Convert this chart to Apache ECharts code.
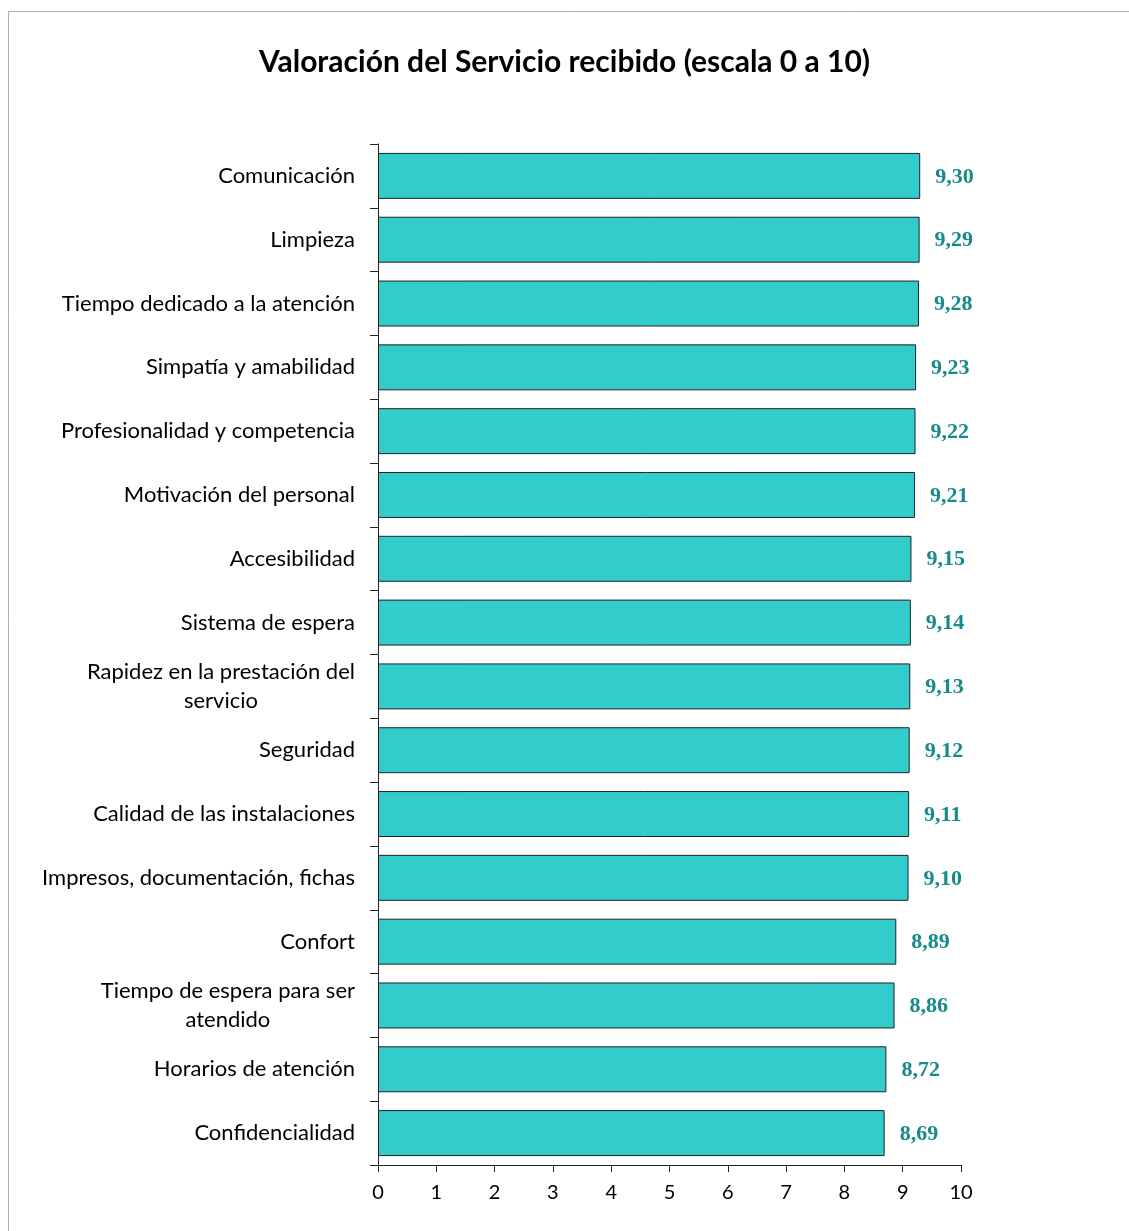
<!DOCTYPE html>
<html>
<head>
<meta charset="utf-8">
<script src="https://cdn.jsdelivr.net/npm/echarts@6/dist/echarts.min.js"></script>
<style>
  html, body { margin: 0; padding: 0; background: #fff; }
  #chart { width: 1129px; height: 1231px; }
</style>
</head>
<body>
<div id="chart"></div>
<script>
// categorias (de arriba a abajo) y valoraciones
const categorias = [
  "Comunicación",
  "Limpieza",
  "Tiempo dedicado a la atención",
  "Simpatía y amabilidad",
  "Profesionalidad y competencia",
  "Motivación del personal",
  "Accesibilidad",
  "Sistema de espera",
  "Rapidez en la prestación del\nservicio",
  "Seguridad",
  "Calidad de las instalaciones",
  "Impresos, documentación, fichas",
  "Confort",
  "Tiempo de espera para ser\natendido",
  "Horarios de atención",
  "Confidencialidad"
];
const valoraciones = [9.30, 9.29, 9.28, 9.23, 9.22, 9.21, 9.15, 9.14, 9.13, 9.12, 9.11, 9.10, 8.89, 8.86, 8.72, 8.69];
const ticksX = [0, 1, 2, 3, 4, 5, 6, 7, 8, 9, 10];

const myChart = echarts.init(document.getElementById("chart"));

const option = {
  backgroundColor: "#fff",
  animation: false,
  title: {
    text: "Valoración del Servicio recibido (escala 0 a 10)",
    left: "center",
    top: 42,
    textStyle: {
      fontFamily: "Lato",
      fontWeight: "bold",
      fontSize: 30,
      color: "#000"
    }
  },
  graphic: [
    {
      // marco gris del grafico
      type: "rect",
      left: 6,
      top: 9,
      shape: { width: 1140, height: 1240 },
      style: { fill: "none", stroke: "#b0b0b0", lineWidth: 1 },
      silent: true
    }
  ],
  grid: {
    left: 378,
    right: 168,
    top: 144,
    bottom: 66,
    containLabel: false
  },
  xAxis: {
    type: "value",
    min: ticksX[0],
    max: ticksX[ticksX.length - 1],
    interval: 1,
    splitLine: { show: false },
    axisLine: { show: true, lineStyle: { color: "#222", width: 1 } },
    axisTick: { show: true, length: 7, lineStyle: { color: "#222" } },
    axisLabel: {
      color: "#000",
      fontFamily: "Lato",
      fontSize: 20,
      margin: 18
    }
  },
  yAxis: {
    type: "category",
    inverse: true,
    data: categorias,
    axisLine: { show: true, lineStyle: { color: "#222", width: 1 } },
    axisTick: { show: true, length: 8, lineStyle: { color: "#222" } },
    axisLabel: {
      color: "#000",
      fontFamily: "Lato",
      fontSize: 22,
      lineHeight: 29,
      align: "right",
      margin: 23,
      // lineas centradas dentro del bloque
      formatter: (v) => v.split("\n").map((s) => "{c|" + s + "}").join("\n"),
      rich: {
        c: {
          align: "center",
          color: "#000",
          fontFamily: "Lato",
          fontSize: 22,
          lineHeight: 29
        }
      }
    }
  },
  series: [
    {
      type: "bar",
      data: valoraciones,
      barCategoryGap: "28%",
      itemStyle: {
        color: "#33CCCC",
        borderColor: "#222",
        borderWidth: 1
      },
      label: {
        show: true,
        position: "right",
        distance: 15,
        color: "#178A8A",
        fontFamily: "Liberation Serif",
        fontWeight: "bold",
        fontSize: 22,
        offset: [0, 1],
        formatter: (p) => p.value.toFixed(2).replace(".", ",")
      }
    }
  ]
};

myChart.setOption(option);
</script>
</body>
</html>
